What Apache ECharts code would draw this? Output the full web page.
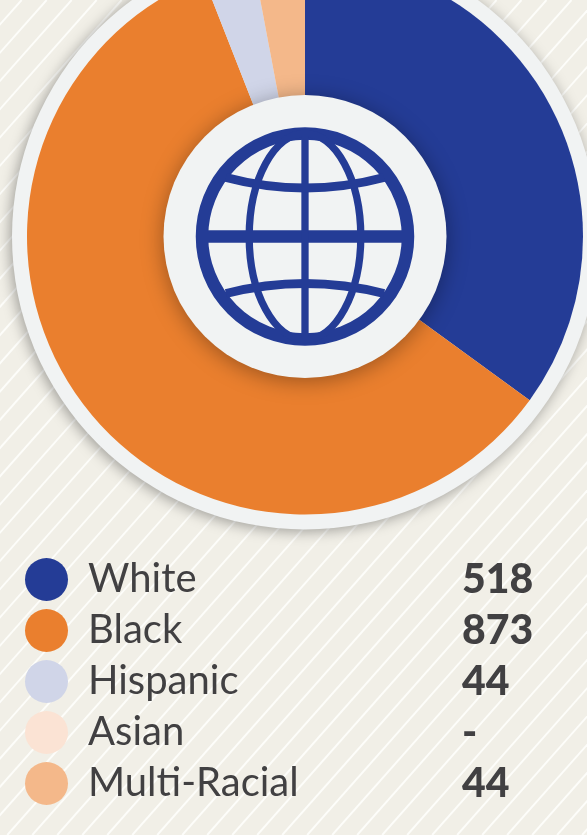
<!DOCTYPE html>
<html>
<head>
<meta charset="utf-8">
<style>
html,body{margin:0;padding:0;width:587px;height:835px;overflow:hidden;background-color:#f1efe7;}
#c{width:587px;height:835px}
</style>
<script src="https://cdn.jsdelivr.net/npm/echarts@6/dist/echarts.min.js"></script>
</head>
<body>
<div id="c"></div>
<script>
const categories = ['White', 'Black', 'Hispanic', 'Asian', 'Multi-Racial'];
const values = [518, 873, 44, 0, 44];
const valueLabels = ['518', '873', '44', '-', '44'];
const colors = ['#243c96', '#ea7f2e', '#d0d5e8', '#fbe3d4', '#f4b88a'];

const chart = echarts.init(document.getElementById('c'), null, {renderer: 'canvas', width: 587, height: 835});
const cx = 305, cy = 236.5, blue = '#243c96', paper = '#f1f3f3';
const glob = {stroke: blue, fill: 'none'};
const pieCommon = {type: 'pie', center: [cx, cy], silent: true, label: {show: false}, labelLine: {show: false}, animation: false, emphasis: {disabled: true}};

// decorative diagonal hatch behind the chart
const hatch = [];
for (let k = 0; k < 54; k++) {
  const d = 16.2 + 18.72 * k;
  hatch.push({type: 'line', z: -10, silent: true,
    shape: {x1: d / 0.749, y1: 0, x2: (d - 0.663 * 835) / 0.749, y2: 835},
    style: {stroke: '#fdfdfa', lineWidth: 1.9}});
}

chart.setOption({
  backgroundColor: '#f1efe7',
  animation: false,
  tooltip: {show: false},
  legend: {
    orient: 'vertical', left: 20, top: 553, itemWidth: 43, itemHeight: 43, itemGap: 8,
    selectedMode: false,
    icon: 'circle',
    data: categories,
    formatter: function (name) {
      const i = categories.indexOf(name);
      return '{n|' + name + '}{v|' + valueLabels[i] + '}';
    },
    textStyle: {
      rich: {
        n: {fontFamily: 'Lato', fontSize: 40, color: '#414042', width: 374, padding: [0, 0, 0, 15], height: 43, lineHeight: 43},
        v: {fontFamily: 'Lato', fontWeight: 900, fontSize: 41, color: '#414042', height: 43, lineHeight: 43}
      }
    }
  },
  series: [
    Object.assign({}, pieCommon, {
      name: 'ring', z: 1, radius: [0, 293], legendHoverLink: false,
      itemStyle: {color: paper, shadowBlur: 14, shadowColor: 'rgba(0,0,0,0.35)', shadowOffsetX: -2, shadowOffsetY: 2},
      data: [{value: 1, name: 'ring'}]
    }),
    Object.assign({}, pieCommon, {
      name: 'groups', z: 2, radius: [0, 278], startAngle: 90, clockwise: true, minAngle: 0,
      data: categories.map((n, i) => ({name: n, value: values[i], itemStyle: {color: colors[i]}}))
    }),
    Object.assign({}, pieCommon, {
      name: 'hub', z: 3, radius: [0, 141.5],
      itemStyle: {color: paper, shadowBlur: 22, shadowColor: 'rgba(0,0,0,0.35)', shadowOffsetY: 3},
      data: [{value: 1, name: 'hub'}]
    })
  ],
  graphic: {
    elements: hatch.concat([
      {type: 'circle', z: 100, silent: true, shape: {cx, cy, r: 103}, style: Object.assign({lineWidth: 12.5}, glob)},
      {type: 'ellipse', z: 100, silent: true, shape: {cx, cy, rx: 55.8, ry: 103}, style: Object.assign({lineWidth: 7.3}, glob)},
      {type: 'line', z: 100, silent: true, shape: {x1: cx - 100, y1: cy, x2: cx + 100, y2: cy}, style: {stroke: blue, lineWidth: 12.7}},
      {type: 'line', z: 100, silent: true, shape: {x1: cx, y1: cy - 100, x2: cx, y2: cy + 100}, style: {stroke: blue, lineWidth: 7.3}},
      {type: 'bezierCurve', z: 100, silent: true, shape: {x1: cx - 79, y1: cy - 59, cpx1: cx, cpy1: cy - 38, x2: cx + 79, y2: cy - 59}, style: Object.assign({lineWidth: 9}, glob)},
      {type: 'bezierCurve', z: 100, silent: true, shape: {x1: cx - 79, y1: cy + 57, cpx1: cx, cpy1: cy + 37, x2: cx + 79, y2: cy + 57}, style: Object.assign({lineWidth: 9}, glob)}
    ])
  }
});
</script>
</body>
</html>
